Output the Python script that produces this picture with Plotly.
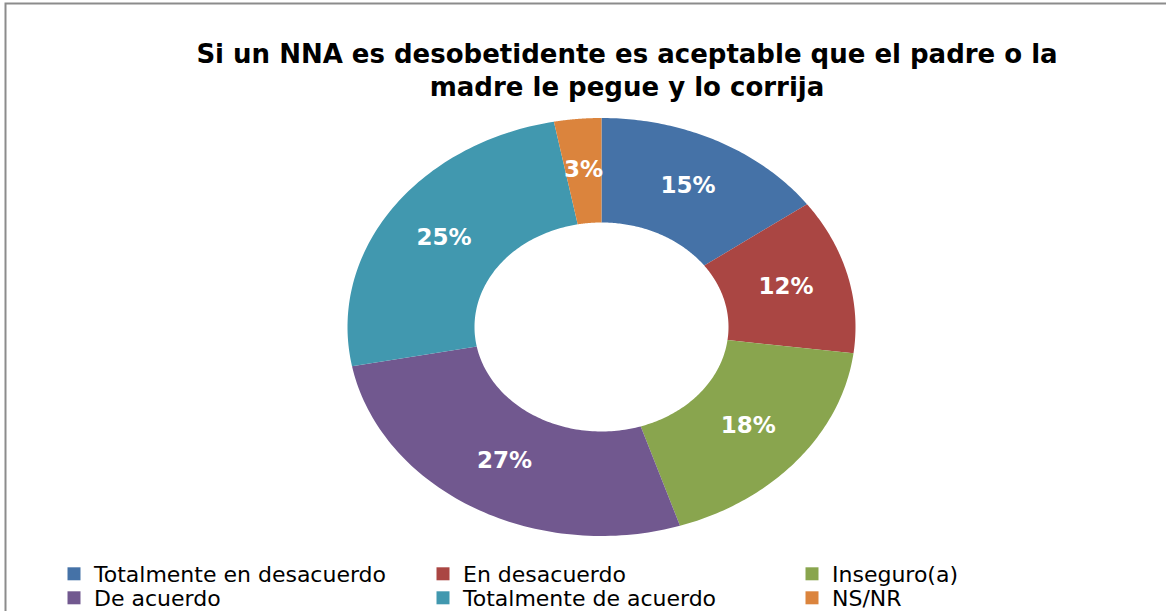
import numpy as np
import plotly.graph_objects as go

W, H = 1166, 611

titulo = "Si un NNA es desobetidente es aceptable que el padre o la<br>madre le pegue y lo corrija"
categorias = ["Totalmente en desacuerdo", "En desacuerdo", "Inseguro(a)",
              "De acuerdo", "Totalmente de acuerdo", "NS/NR"]
porcentajes = [15, 12, 18, 27, 25, 3]
colores = ["#4572A7", "#AA4643", "#89A54E", "#71588F", "#4198AF", "#DB843D"]

# donut geometry (pixels) - the original is stretched into an ellipse
CX, CY = 601.5, 327
RX, RY = 254, 209
HOLE = 0.5

fig = go.Figure()

total = sum(porcentajes)
inicio = 0.0
lab_x, lab_y, lab_txt = [], [], []
for cat, val, col in zip(categorias, porcentajes, colores):
    a0 = inicio / total * 2 * np.pi
    a1 = (inicio + val) / total * 2 * np.pi
    t = np.linspace(a0, a1, 80)
    xs = np.concatenate([np.sin(t), HOLE * np.sin(t[::-1])])
    ys = np.concatenate([np.cos(t), HOLE * np.cos(t[::-1])])
    fig.add_trace(go.Scatter(x=xs, y=ys, fill="toself", fillcolor=col, mode="none",
                             showlegend=False, hoverinfo="skip"))
    mid = (a0 + a1) / 2
    lab_x.append(0.75 * np.sin(mid))
    lab_y.append(0.75 * np.cos(mid))
    lab_txt.append(f"{val}%")
    inicio += val

fig.add_trace(go.Scatter(x=lab_x, y=lab_y, text=lab_txt, mode="text",
                         textfont=dict(family="DejaVu Sans", size=23, color="white", weight="bold"),
                         showlegend=False, hoverinfo="skip"))

# legend entries (square markers like the original), one legend per row
for i, (cat, col) in enumerate(zip(categorias, colores)):
    fig.add_trace(go.Scatter(x=[None], y=[None], mode="markers", name=cat,
                             legend="legend" if i < 3 else "legend2",
                             marker=dict(symbol="square", size=13, color=col)))

leg_common = dict(orientation="h", xanchor="left", yanchor="middle",
                  entrywidth=324, entrywidthmode="pixels", traceorder="normal",
                  font=dict(family="DejaVu Sans", size=22, color="black"),
                  bgcolor="rgba(0,0,0,0)")

fig.update_layout(
    width=W, height=H,
    margin=dict(l=0, r=0, t=0, b=0, autoexpand=False),
    paper_bgcolor="white", plot_bgcolor="white",
    title=dict(text=titulo, x=627 / W, xanchor="center", y=1 - 62.5 / H, yanchor="middle",
               font=dict(family="DejaVu Sans", size=26, color="black", weight="bold")),
    xaxis=dict(range=[-CX / RX, (W - CX) / RX], visible=False, fixedrange=True),
    yaxis=dict(range=[-(H - CY) / RY, CY / RY], visible=False, fixedrange=True),
    legend=dict(leg_common, x=54 / W, y=1 - 574 / H),
    legend2=dict(leg_common, x=54 / W, y=1 - 598 / H),
    shapes=[dict(type="rect", xref="paper", yref="paper",
                 x0=5.5 / W, x1=1.05, y0=-0.05, y1=1 - 3.5 / H,
                 line=dict(color="#8c8c8c", width=2))],
)

# page body has a default 8px margin; drop it so the figure fills the window
fig.write_html("out.html", config={"displayModeBar": False},
               post_script="document.body.style.margin='0px';")
